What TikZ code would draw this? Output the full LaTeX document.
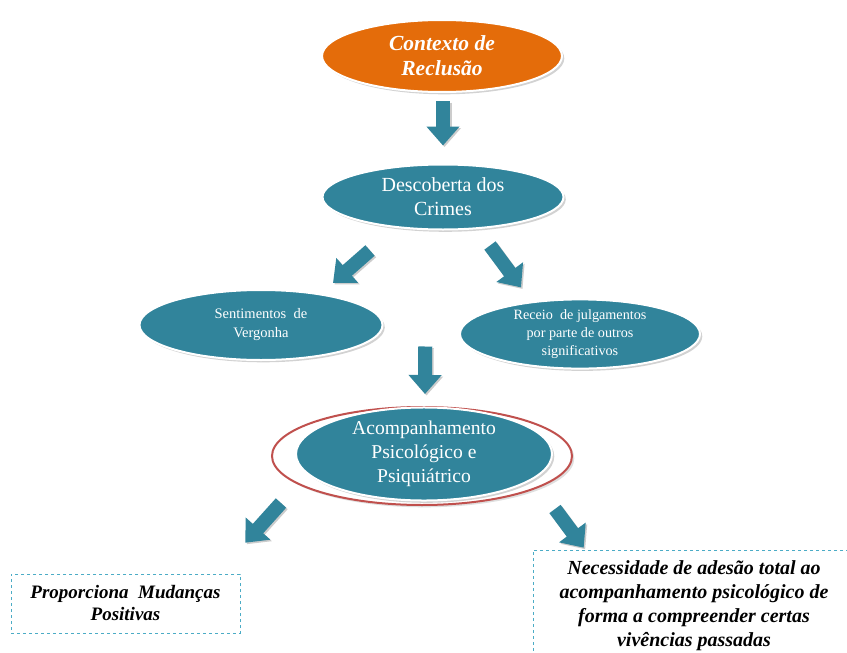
\documentclass[tikz,border=0pt]{standalone}
\usepackage{fontspec}
\setmainfont{Liberation Serif}
\usetikzlibrary{shapes.geometric,arrows.meta,shadows,calc}
\definecolor{tealblue}{HTML}{31849B}
\definecolor{orangebub}{HTML}{E46C0A}
\definecolor{ringred}{HTML}{C0504D}
\definecolor{boxline}{HTML}{4BACC6}
\tikzset{
  bubble/.style={ellipse,fill=tealblue,draw=white,line width=2pt,text=white,align=center,inner sep=0pt,drop shadow={opacity=0.35}},
  bigarrow/.style={draw=tealblue,line width=14pt,-{Triangle[length=19pt,width=32pt]},
    preaction={draw=black!20,line width=14pt,-{Triangle[length=19pt,width=32pt]},transform canvas={shift={(1.5pt,-1.5pt)}}}},
  notebox/.style={rectangle,draw=boxline,dashed,line width=0.6pt,align=center,inner sep=0pt,font=\bfseries\itshape}
}
\begin{document}
\begin{tikzpicture}[x=1pt,y=-1pt]
\useasboundingbox[fill=white] (0,0) rectangle (847,653);
% ellipses
\node[bubble,fill=orangebub,minimum width=240,minimum height=72,font=\fontsize{21.5}{25}\selectfont\bfseries\itshape] (ctx) at (442,56) {Contexto de\\Reclusão};
\node[bubble,minimum width=241,minimum height=65,font=\fontsize{20}{24}\selectfont] (desc) at (443,197) {Descoberta dos\\Crimes};
\node[bubble,minimum width=243,minimum height=70,font=\fontsize{14.5}{19}\selectfont] (sent) at (261,325) {Sentimentos~~de\\Vergonha};
\node[bubble,minimum width=240,minimum height=68,font=\fontsize{14.2}{18}\selectfont] (rec) at (580,334) {Receio~ de julgamentos\\por parte de outros\\significativos};
\node[ellipse,draw=ringred,line width=2pt,fill=white,minimum width=300,minimum height=98,drop shadow={opacity=0.25}] (ring) at (422,456) {};
\node[bubble,minimum width=256,minimum height=86,font=\fontsize{19.6}{24}\selectfont] (acomp) at (424,454) {Acompanhamento\\Psicológico e\\Psiquiátrico};
% text boxes
\node[notebox,minimum width=229,minimum height=59,font=\fontsize{19}{22}\selectfont\bfseries\itshape] (prop) at (125.5,603.5) {Proporciona~ Mudanças\\Positivas};
\node[notebox,minimum width=330,minimum height=112,font=\fontsize{20}{24}\selectfont\bfseries\itshape] (need) at (698,606) {\hspace*{-8pt}Necessidade de adesão total ao\\\hspace*{-8pt}acompanhamento psicológico de\\\hspace*{-8pt}forma a compreender certas\\\hspace*{-8pt}vivências passadas};
% arrows
\draw[bigarrow] ($(ctx.south)+(1,8)$) -- ($(desc.north)+(0,-18)$);
\draw[bigarrow] ($(desc.south)+(-73,20)$) -- ($(sent.north)+(72,-6)$);
\draw[bigarrow] ($(desc.south)+(47,15)$) -- ($(rec.north)+(-59,-11)$);
\coordinate (mid) at ($(sent.east)!0.5!(rec.west)$);
\draw[bigarrow] ($(mid)+(4,17)$) -- ($(ring.north)+(3,-12)$);
\draw[bigarrow] ($(ring.south)+(-141,-3)$) -- ($(prop.north east)+(5,-31)$);
\draw[bigarrow] ($(ring.south)+(133,3)$) -- ($(need.north west)+(51,-2)$);
\end{tikzpicture}
\end{document}
